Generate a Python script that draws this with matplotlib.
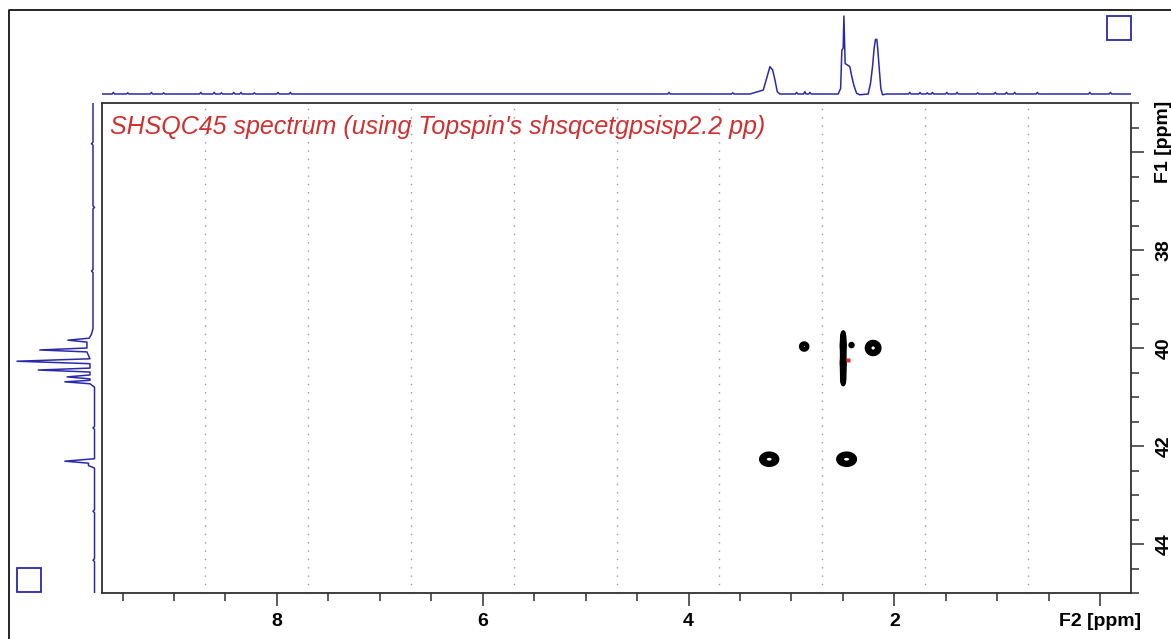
import matplotlib
matplotlib.use('Agg')
import matplotlib.pyplot as plt
import numpy as np
from matplotlib.lines import Line2D
from matplotlib.patches import Rectangle
from matplotlib.ticker import FixedLocator, MultipleLocator

# ---------------- data ----------------
f2_range = [9.7, -0.3]
f1_range = [45.0, 35.0]

# F2 (1H) projection: peak outline points (ppm, relative intensity)
top_ppm = [3.403, 3.274, 3.241, 3.209, 3.183, 3.160, 3.138, 3.112,
           2.546, 2.522, 2.510, 2.497, 2.490, 2.478, 2.454, 2.432, 2.416, 2.393,
           2.367, 2.335, 2.254, 2.231, 2.212, 2.196, 2.183, 2.170, 2.160, 2.148,
           2.131, 2.115, 2.076]
top_int = [0.00, 0.05, 0.20, 0.35, 0.31, 0.18, 0.03, 0.00,
           0.00, 0.07, 0.56, 0.59, 1.00, 0.39, 0.37, 0.35, 0.24, 0.11,
           0.01, -0.01, 0.00, 0.14, 0.35, 0.59, 0.70, 0.70, 0.56, 0.35,
           0.07, -0.01, 0.00]
# small noise blips on the F2 projection baseline
top_blip_ppm = [9.59, 9.45, 9.22, 9.10, 8.74, 8.61, 8.54, 8.42, 8.35, 8.22, 7.99, 7.87,
                4.19, 3.57, 2.95, 2.87, 2.82, 1.85, 1.75, 1.68, 1.63, 1.49, 1.39,
                1.19, 1.02, 0.91, 0.83, 0.61, 0.10, -0.10]
top_blip_int = [0.02, 0.015, 0.02, 0.015, 0.02, 0.02, 0.015, 0.02, 0.02, 0.015, 0.02, 0.02,
                0.02, 0.015, 0.02, 0.03, 0.02, 0.02, 0.02, 0.015, 0.02, 0.02, 0.02,
                0.015, 0.02, 0.02, 0.02, 0.02, 0.02, 0.02]

# F1 (13C) projection points (ppm, relative intensity)
left_f1 = [35.00, 35.80, 35.83, 35.86, 37.10, 37.13, 37.16, 38.40, 38.43, 38.46,
           39.60, 39.72, 39.80, 39.84, 39.88, 40.00, 40.04, 40.08, 40.22, 40.27,
           40.32, 40.41, 40.45, 40.49, 40.55, 40.59, 40.63, 40.66, 40.69, 40.73,
           40.80, 41.60, 41.63, 41.66, 42.26, 42.31, 42.35, 42.40, 42.45, 42.50,
           43.30, 43.33, 43.36, 44.30, 44.33, 44.36, 45.00]
left_int = [0.00, 0.00, 0.02, 0.00, 0.00, -0.02, 0.00, 0.00, 0.02, 0.00,
            0.00, 0.02, 0.05, 0.33, 0.08, 0.08, 0.70, 0.08, 0.04, 1.00,
            0.04, 0.04, 0.72, 0.04, 0.04, 0.34, 0.04, 0.04, 0.37, 0.04,
            -0.02, -0.02, 0.00, -0.02, -0.02, 0.37, 0.06, 0.06, -0.02, -0.02,
            -0.02, 0.00, -0.02, -0.02, 0.00, -0.02, -0.02]

# 2D cross peaks: F2 ppm, F1 ppm, amplitude, F2 width, F1 width
cross_f2 = [3.216, 2.464, 2.206, 2.876, 2.416,
            2.497, 2.497, 2.497, 2.497, 2.497, 2.497]
cross_f1 = [42.27, 42.27, 40.00, 39.97, 39.94,
            39.78, 39.95, 40.12, 40.30, 40.47, 40.64]
cross_amp = [1.0, 1.0, 1.0, 0.7, 0.5,
             0.9, 1.0, 1.0, 1.0, 1.0, 0.9]
cross_w2 = [0.056, 0.058, 0.045, 0.030, 0.019,
            0.012, 0.014, 0.012, 0.014, 0.012, 0.012]
cross_w1 = [0.086, 0.086, 0.092, 0.063, 0.040,
            0.080, 0.080, 0.080, 0.080, 0.080, 0.080]
contour_levels = [0.3, 0.42, 0.55, 0.68, 0.82]

marker_f2 = [2.45]
marker_f1 = [40.24]

grid_ppm = [8.7, 7.7, 6.7, 5.7, 4.7, 3.7, 2.7, 1.7, 0.7]
x_major = [10, 8, 6, 4, 2, 0]
x_labels = ['', '8', '6', '4', '2', 'F2 [ppm]']
y_major = [36, 38, 40, 42, 44]
y_labels = ['', '38', '40', '42', '44']

title = "SHSQC45 spectrum (using Topspin's shsqcetgpsisp2.2 pp)"

# ---------------- figure ----------------
W, H = 1171, 639
fig = plt.figure(figsize=(W / 100, H / 100), dpi=100)
fig.patch.set_facecolor('white')

def frac(l, t, r, b):
    return [l / W, 1 - b / H, (r - l) / W, (b - t) / H]

blue = '#2a2aa8'
dark = '#303030'
tick_font = ['Liberation Sans', 'DejaVu Sans']

# main 2D axes
ax = fig.add_axes(frac(102, 103, 1131, 593))
ax.set_xlim(*f2_range)
ax.set_ylim(*f1_range)

for g in grid_ppm:
    ax.axvline(g, color='#9a9a9a', lw=1.0, linestyle=(0, (1, 5)), zorder=0)

gx = np.linspace(1.8, 3.6, 600)
gy = np.linspace(39.2, 42.9, 600)
X, Y = np.meshgrid(gx, gy)
Z = np.zeros_like(X)
for f2, f1, a, w2, w1 in zip(cross_f2, cross_f1, cross_amp, cross_w2, cross_w1):
    Z += a * np.exp(-0.5 * (((X - f2) / w2) ** 2 + ((Y - f1) / w1) ** 2))
ax.contour(X, Y, Z, levels=contour_levels, colors='black', linewidths=1.8, zorder=2)
ax.plot(marker_f2, marker_f1, 's', color='#e03030', markersize=3, mec='none', zorder=3)

ax.text(0.008, 0.951, title, transform=ax.transAxes, color='#d03030',
        fontsize=18, style='italic', family=['Liberation Sans', 'DejaVu Sans'],
        va='center', ha='left')

ax.xaxis.set_major_locator(FixedLocator(x_major))
ax.xaxis.set_minor_locator(MultipleLocator(0.5))
ax.set_xticklabels(x_labels)
ax.yaxis.set_major_locator(FixedLocator(y_major))
ax.yaxis.set_minor_locator(MultipleLocator(0.5))
ax.yaxis.tick_right()
ax.set_yticklabels(y_labels, rotation=90, va='center')
ax.tick_params(which='major', length=9.5, width=1.1, color=dark, direction='out')
ax.tick_params(which='minor', length=5.8, width=1.1, color=dark, direction='out')
ax.tick_params(axis='x', which='major', pad=5)
ax.tick_params(axis='y', which='major', pad=8)
for lab in ax.get_xticklabels() + ax.get_yticklabels():
    lab.set_fontweight('bold')
    lab.set_fontsize(14)
    lab.set_family(tick_font)
for s in ax.spines.values():
    s.set_color(dark)
    s.set_linewidth(1.3)

fig.text(1163 / W, 1 - 142 / H, 'F1 [ppm]', rotation=90, ha='center', va='center',
         fontsize=14, fontweight='bold', family=tick_font)

# top projection (F2)
axt = fig.add_axes(frac(102, 10, 1131, 100))
axt.set_xlim(*f2_range)
axt.set_ylim(-0.077, 1.077)
axt.axis('off')
pts = list(zip(top_ppm, top_int)) + [(f2_range[0], 0.0), (f2_range[1], 0.0)]
for p, a in zip(top_blip_ppm, top_blip_int):
    pts += [(p + 0.012, 0.0), (p, a), (p - 0.012, 0.0)]
pts.sort(key=lambda t: -t[0])
axt.plot([p for p, _ in pts], [a for _, a in pts], color=blue, lw=1.1)

# left projection (F1)
axl = fig.add_axes(frac(10, 103, 100, 593))
axl.set_ylim(*f1_range)
axl.set_xlim(1.092, -0.092)
axl.axis('off')
axl.plot(left_int, left_f1, color=blue, lw=1.1)

# outer frame and corner squares
fig.add_artist(Line2D([9 / W, 9 / W, 1.0], [0.0, 1 - 10 / H, 1 - 10 / H],
                      transform=fig.transFigure, color='black', lw=1.2))
fig.add_artist(Rectangle((1107 / W, 1 - 40 / H), 24 / W, 24 / H, fill=False,
                         edgecolor=blue, lw=1.3, transform=fig.transFigure))
fig.add_artist(Rectangle((17 / W, 1 - 592 / H), 24 / W, 24 / H, fill=False,
                         edgecolor=blue, lw=1.3, transform=fig.transFigure))

fig.savefig('out.png', dpi=100)
